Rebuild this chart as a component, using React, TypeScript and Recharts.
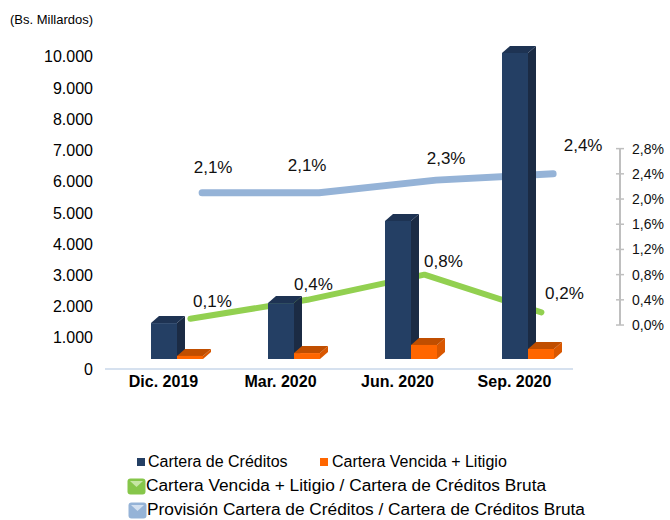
import * as React from 'react';
import { ComposedChart, Bar, Line, XAxis, YAxis, LabelList } from 'recharts';

const PERIODS = ['Dic. 2019', 'Mar. 2020', 'Jun. 2020', 'Sep. 2020'];
const CARTERA = [1150, 1790, 4420, 9800];
const VENCIDA = [100, 190, 450, 320];
const RATIO_VENCIDA = [0.1, 0.4, 0.8, 0.2];
const RATIO_PROVISION = [2.1, 2.1, 2.3, 2.4];

const LEFT_TICKS = [0, 1000, 2000, 3000, 4000, 5000, 6000, 7000, 8000, 9000, 10000];
const RIGHT_TICKS = [0, 0.4, 0.8, 1.2, 1.6, 2.0, 2.4, 2.8];

const NAMES = {
    cartera: 'Cartera de Créditos',
    vencida: 'Cartera Vencida + Litigio',
    ratio: 'Cartera Vencida + Litigio / Cartera de Créditos Bruta',
    provision: 'Provisión Cartera de Créditos / Cartera de Créditos Bruta',
};

const NAVY = '#243F64';
const ORANGE = '#FF6600';
const GREEN = '#92D050';
const BLUE = '#95B3D7';
const FONT = '"Liberation Sans", Arial, sans-serif';

// chart geometry (px)
const PLOT_TOP = 38;
const PLOT_BOTTOM = 369;
const RIGHT_DOMAIN: [number, number] = [-0.698, 4.556];
const RIGHT_PX_PER_UNIT = (PLOT_BOTTOM - PLOT_TOP) / (RIGHT_DOMAIN[1] - RIGHT_DOMAIN[0]);

const data = PERIODS.map((period, i) => ({
    period,
    idx: i,
    cartera: CARTERA[i],
    vencida: VENCIDA[i],
    ratio: RATIO_VENCIDA[i],
    provision: RATIO_PROVISION[i],
}));

const fmtThousands = (v: number) => String(v).replace(/\B(?=(\d{3})+(?!\d))/g, '.');
const fmtPct = (v: number) => v.toFixed(1).replace('.', ',') + '%';

// 3D-looking column, drawn from the rect recharts computes
const DEPTH_X = 8;
const DEPTH_Y = 7;
const SHIFT_X = 13;
const SHIFT_Y = -10;
const makeBar3D = (front: string, side: string, top: string) => (props: any) => {
    const { x, y, width, height } = props;
    if (x == null || y == null) return null;
    const x0 = x + SHIFT_X;
    const y0 = y + SHIFT_Y;
    const h = Math.max(height, 1.5);
    const yt = y0 + height - h;
    return (
        <g>
            <polygon
                points={`${x0 + width},${yt} ${x0 + width + DEPTH_X},${yt - DEPTH_Y} ${x0 + width + DEPTH_X},${yt + h - DEPTH_Y} ${x0 + width},${yt + h}`}
                fill={side}
            />
            <polygon
                points={`${x0},${yt} ${x0 + DEPTH_X},${yt - DEPTH_Y} ${x0 + width + DEPTH_X},${yt - DEPTH_Y} ${x0 + width},${yt}`}
                fill={top}
            />
            <rect x={x0} y={yt} width={width} height={h} fill={front} />
        </g>
    );
};

const NavyBar = makeBar3D(NAVY, '#1B2B44', '#1E3353');
const OrangeBar = makeBar3D(ORANGE, '#D95700', '#C04E00');

const GREEN_LABEL_OFFSETS = [[22, -17], [6, -15], [19, -13], [23, -19]];
const BLUE_LABEL_OFFSETS = [[11, -25], [-12, -27], [10, -22], [30, -28]];

const makeLabel = (offsets: number[][]) => (props: any) => {
    const { x, y, value, index } = props;
    const [dx, dy] = offsets[index] || [0, -20];
    return (
        <text x={x + dx} y={y + dy} textAnchor="middle" dominantBaseline="central" fontSize={17} fontFamily={FONT} fill="#111">
            {fmtPct(value)}
        </text>
    );
};

const RightTick = (props: any) => {
    const { x, y, payload } = props;
    const ax = x + 47;
    const seg = 0.4 * RIGHT_PX_PER_UNIT;
    return (
        <g>
            {payload.value > 0 && <line x1={ax} x2={ax} y1={y} y2={y + seg} stroke="#BFBFBF" strokeWidth={2} />}
            <line x1={ax - 4} x2={ax + 4} y1={y} y2={y} stroke="#BFBFBF" strokeWidth={1.5} />
            <text x={ax + 12} y={y} dominantBaseline="central" fontSize={14} fontFamily={FONT} fill="#111">
                {fmtPct(payload.value)}
            </text>
        </g>
    );
};

const LineIcon = ({ base, light }: { base: string; light: string }) => (
    <svg width={19} height={17} style={{ display: 'block' }}>
        <rect x={0.5} y={0.5} width={18} height={16} rx={3} fill={base} />
        <polygon points="3,3 16,3 9.5,9" fill={light} />
    </svg>
);

const legendText: React.CSSProperties = { position: 'absolute', fontSize: 16, fontFamily: FONT, color: '#000', whiteSpace: 'nowrap', lineHeight: '18px' };

export default function App() {
    return (
        <div style={{ position: 'absolute', left: 0, top: 0, width: 670, height: 520, background: '#fff', overflow: 'hidden', fontFamily: FONT }}>
            <div style={{ position: 'absolute', left: 10, top: 12, fontSize: 13, color: '#000' }}>(Bs. Millardos)</div>
            <ComposedChart width={670} height={400} data={data} barGap={0} barSize={26} margin={{ top: PLOT_TOP, right: 0, left: 0, bottom: 1 }}>
                <XAxis
                    xAxisId="cat"
                    dataKey="period"
                    height={30}
                    interval={0}
                    tickLine={false}
                    tickSize={0}
                    tickMargin={7}
                    axisLine={{ stroke: '#C9D7EA', strokeWidth: 1.5 }}
                    tick={{ fontSize: 16, fontWeight: 'bold', fill: '#000', fontFamily: FONT }}
                />
                <XAxis xAxisId="g" type="number" dataKey="idx" domain={[-0.73, 3.27]} allowDataOverflow hide height={0} />
                <XAxis xAxisId="b" type="number" dataKey="idx" domain={[-0.83, 3.17]} allowDataOverflow hide height={0} />
                <YAxis
                    yAxisId="left"
                    width={105}
                    domain={[0, 10600]}
                    ticks={LEFT_TICKS}
                    allowDataOverflow
                    axisLine={false}
                    tickLine={false}
                    tickSize={0}
                    tickMargin={12}
                    tickFormatter={fmtThousands}
                    tick={{ fontSize: 16, fill: '#000', fontFamily: FONT }}
                />
                <YAxis
                    yAxisId="right"
                    orientation="right"
                    width={97}
                    domain={RIGHT_DOMAIN}
                    ticks={RIGHT_TICKS}
                    allowDataOverflow
                    axisLine={false}
                    tickLine={false}
                    tickSize={0}
                    tickMargin={0}
                    tick={<RightTick />}
                />
                <Line
                    xAxisId="b"
                    yAxisId="right"
                    dataKey="provision"
                    name={NAMES.provision}
                    stroke={BLUE}
                    strokeWidth={7}
                    strokeLinecap="round"
                    strokeLinejoin="round"
                    dot={false}
                    isAnimationActive={false}
                    zIndex={250}
                >
                    <LabelList dataKey="provision" content={makeLabel(BLUE_LABEL_OFFSETS)} />
                </Line>
                <Line
                    xAxisId="g"
                    yAxisId="right"
                    dataKey="ratio"
                    name={NAMES.ratio}
                    stroke={GREEN}
                    strokeWidth={6}
                    strokeLinecap="round"
                    strokeLinejoin="round"
                    dot={false}
                    isAnimationActive={false}
                    zIndex={250}
                >
                    <LabelList dataKey="ratio" content={makeLabel(GREEN_LABEL_OFFSETS)} />
                </Line>
                <Bar xAxisId="cat" yAxisId="left" dataKey="cartera" name={NAMES.cartera} fill={NAVY} shape={NavyBar} isAnimationActive={false} />
                <Bar xAxisId="cat" yAxisId="left" dataKey="vencida" name={NAMES.vencida} fill={ORANGE} shape={OrangeBar} isAnimationActive={false} />
            </ComposedChart>

            <div style={{ position: 'absolute', left: 137, top: 458, width: 8, height: 8, background: NAVY }} />
            <div style={{ ...legendText, left: 148, top: 453 }}>{NAMES.cartera}</div>
            <div style={{ position: 'absolute', left: 320, top: 458, width: 8, height: 8, background: ORANGE }} />
            <div style={{ ...legendText, left: 332, top: 453 }}>{NAMES.vencida}</div>

            <div style={{ position: 'absolute', left: 127, top: 478 }}><LineIcon base="#86C64A" light="#C6E6A4" /></div>
            <div style={{ ...legendText, fontSize: 17.3, left: 146, top: 476 }}>{NAMES.ratio}</div>

            <div style={{ position: 'absolute', left: 128, top: 502 }}><LineIcon base={BLUE} light="#D3E0F0" /></div>
            <div style={{ ...legendText, fontSize: 17.3, lineHeight: '17px', left: 147, top: 501 }}>{NAMES.provision}</div>
        </div>
    );
}
